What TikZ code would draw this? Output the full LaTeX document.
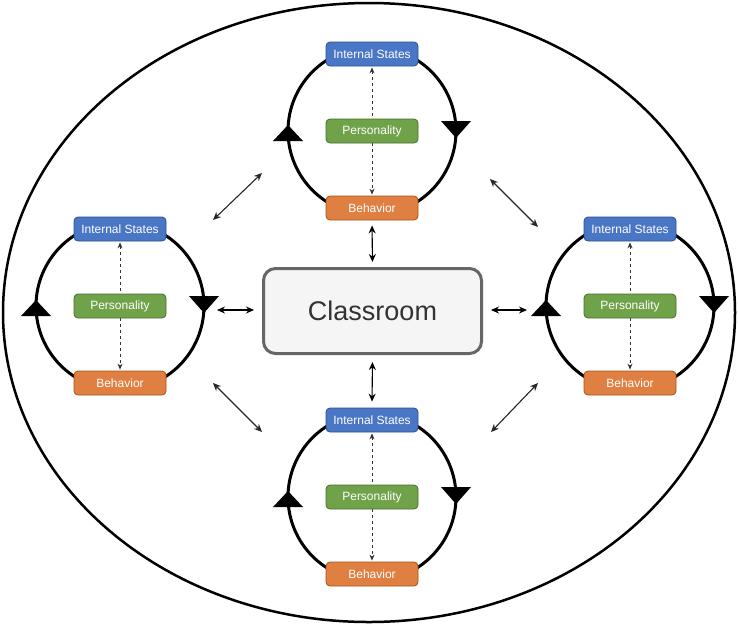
\documentclass[tikz,border=0pt]{standalone}
\usepackage{fontspec}
\setsansfont{Liberation Sans}
\usetikzlibrary{arrows.meta}
\definecolor{isfill}{HTML}{4A76C6}
\definecolor{isline}{HTML}{2E4F8C}
\definecolor{persfill}{HTML}{70A24A}
\definecolor{persline}{HTML}{466E2C}
\definecolor{behfill}{HTML}{E07F42}
\definecolor{behline}{HTML}{A65416}
\definecolor{roomfill}{HTML}{F5F5F5}
\definecolor{roomline}{HTML}{666666}
\tikzstyle{box} = [draw, rounded corners=4pt, minimum width=92pt, minimum height=24pt, inner sep=1pt, text=white, line width=0.8pt, font=\sffamily\fontsize{12}{14}\selectfont]
\tikzstyle{link} = [<->, >={Stealth[length=8pt,width=7pt]}, line width=1.1pt]
\tikzstyle{inner} = [<->, >={Stealth[length=6pt,width=5pt]}, dashed, line width=0.8pt, draw=black!80]

\begin{document}
\begin{tikzpicture}[x=1pt,y=-1pt]
\useasboundingbox (0,0) rectangle (738,625);

\draw[line width=2.5pt] (369,312.5) ellipse [x radius=366pt, y radius=309.5pt];

\node[draw=roomline, fill=roomfill, line width=3pt, rounded corners=12pt,
  minimum width=218pt, minimum height=85pt, text=black!80,
  font=\sffamily\fontsize{27}{32}\selectfont] (class) at (372.5,311) {Classroom};

% one loop per student
\foreach \n/\cx/\cy in {top/372/131, left/120/306, right/630/306, bottom/372/497}{
  \draw[line width=3pt] (\cx,\cy) circle (84pt);
  \fill (\cx-99,\cy+10) -- (\cx-69,\cy+10) -- (\cx-84,\cy-6) -- cycle;
  \fill (\cx+69,\cy-10) -- (\cx+99,\cy-10) -- (\cx+84,\cy+7) -- cycle;
  \node[box, fill=isfill, draw=isline] (is-\n) at (\cx,\cy-77) {Internal States};
  \node[box, fill=behfill, draw=behline] (beh-\n) at (\cx,\cy+77) {Behavior};
  \draw[inner, shorten <=1pt, shorten >=1pt] (is-\n) -- (beh-\n);
  \node[box, fill=persfill, draw=persline] (pers-\n) at (\cx,\cy) {Personality};
}

% links to the classroom
\draw[link, shorten <=5pt, shorten >=5pt] (beh-top.south) -- (class.north);
\draw[link, shorten <=7pt, shorten >=6pt] (class.south) -- (is-bottom.north);

\coordinate (l-end) at (217,310);
\coordinate (r-end) at (527,310);
\draw[link, shorten >=8pt] (l-end) -- (l-end -| class.west);
\draw[link, shorten >=8pt] (r-end) -- (r-end -| class.east);

% links between students
\coordinate (tl-a) at (213,220);
\coordinate (tl-b) at (262,173);
\coordinate (tr-a) at (490,179);
\coordinate (tr-b) at (538,227);
\coordinate (bl-a) at (213,383);
\coordinate (bl-b) at (262,432);
\coordinate (br-a) at (538,383);
\coordinate (br-b) at (491,432);
\draw[link, draw=black!85] (tl-a) -- (tl-b);
\draw[link, draw=black!85] (tr-a) -- (tr-b);
\draw[link, draw=black!85] (bl-a) -- (bl-b);
\draw[link, draw=black!85] (br-a) -- (br-b);
\end{tikzpicture}
\end{document}
